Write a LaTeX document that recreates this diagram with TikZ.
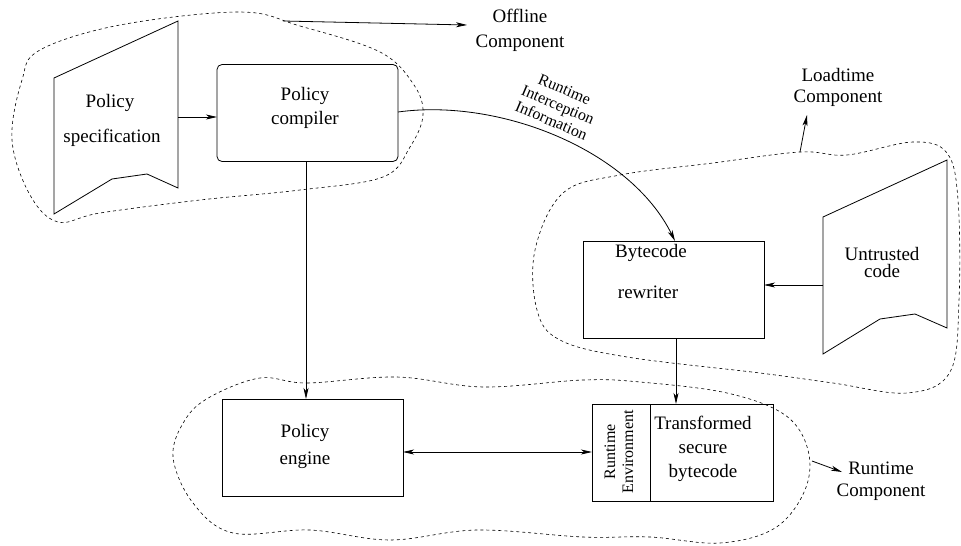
\documentclass[tikz,border=0pt]{standalone}
\usepackage{fontspec}
\setmainfont{Liberation Serif}
\usetikzlibrary{arrows.meta}
\begin{document}
\begin{tikzpicture}[x=1pt,y=-1pt,
  line width=0.8pt,
  every node/.style={inner sep=0pt,outer sep=0pt},
  txt/.style={font=\fontsize{19}{24}\selectfont,align=center},
  boxnode/.style={draw,minimum width=181pt,minimum height=97pt},
  blob/.style={dashed,dash pattern=on 3pt off 3pt,line width=0.6pt},
  arr/.style={-{Stealth[length=11pt,width=5pt,inset=3pt]}},
  darr/.style={{Stealth[length=11pt,width=5pt,inset=3pt]}-{Stealth[length=11pt,width=5pt,inset=3pt]}}]
\useasboundingbox (0,0) rectangle (961,546);

% dashed regions
\draw[blob] plot[smooth cycle,tension=0.6] coordinates {(240,12) (300,26) (380,52) (414,85) (423,115) (410,147) (383,177) (300,190) (200,200) (100,213) (58,222) (30,195) (12,140) (22,80) (40,50) (120,25)};
\draw[blob] plot[smooth cycle,tension=0.6] coordinates {(563,193) (620,175) (713,163) (800,152) (847,155) (913,142) (947,153) (958,200) (959,300) (950,372) (907,393) (833,383) (760,373) (627,357) (560,340) (537,310) (535,250)};
\draw[blob] plot[smooth cycle,tension=0.6] coordinates {(260,378) (307,383) (397,377) (483,387) (583,380) (640,382) (727,393) (785,415) (808,450) (805,490) (775,528) (720,543) (650,537) (583,537) (477,530) (390,540) (310,530) (233,533) (193,503) (173,457) (185,420) (210,397)};

% document shapes
\draw (54,78) -- (178,21) -- (178,188) -- (147,174) -- (112,179) -- (54,214) -- cycle;
\node[txt] (spectxt) at (110,103) {Policy};
\node[txt] (spectxt2) at (112,138) {specification};
\coordinate (specR) at (178,117);

\draw (823,217) -- (947,160) -- (947,328) -- (915,314) -- (880,319) -- (823,354) -- cycle;
\node[txt,font=\fontsize{19}{17}\selectfont] (uttxt) at (882,262) {Untrusted\\code};
\coordinate (utL) at (823,285);

% boxes
\node[boxnode,rounded corners=5pt] (comp) at (307.5,113) {};
\node[txt] (comptxt) at (305,108) {Policy\\compiler};

\node[boxnode] (eng) at (312.5,447.5) {};
\node[txt,font=\fontsize{19}{27}\selectfont] (engtxt) at (305,446) {Policy\\engine};

\node[boxnode] (bc) at (673.5,289.5) {};
\node[txt] (bctxt1) at (651,253) {Bytecode};
\node[txt] (bctxt2) at (648,292) {rewriter};

\node[boxnode] (rt) at (682.5,452.5) {};
\draw (650,404) -- (650,501);
\node[font=\fontsize{16}{18}\selectfont,align=center,rotate=90] (rtenv) at (619,452) {Runtime\\Environment};
\node[txt,font=\fontsize{19}{24}\selectfont] (tsb) at (703,449) {Transformed\\secure\\bytecode};

% connectors
\draw[arr] (specR) -- (comp.west |- specR);
\draw[arr] (comp.south -| 306,0) -- (eng.north -| 306,0);
\draw[darr] (eng.east |- 0,452) -- (rt.west |- 0,452);
\draw[arr] (bc.south -| 676,0) -- (rt.north -| 676,0);
\draw[arr] (utL) -- (utL -| bc.east);
\draw[arr] (comp.east |- 0,112) .. controls (500,98) and (630,150) .. (bc.north -| 675,0);
\node[font=\fontsize{16}{17}\selectfont,align=center,rotate=-23] (rii) at (558,105) {Runtime\\Interception\\Information};

% component labels
\node[txt,font=\fontsize{19}{25}\selectfont] (off) at (520,30) {Offline\\Component};
\coordinate (offs) at (283,21);
\draw[arr] (offs) -- (467,25);
\node[txt,font=\fontsize{19}{21}\selectfont] (load) at (838,87) {Loadtime\\Component};
\coordinate (loads) at (800,152);
\draw[arr] (loads) -- (807,115);
\node[txt,font=\fontsize{19}{22}\selectfont] (run) at (881,481) {Runtime\\Component};
\coordinate (runs) at (812,461);
\draw[arr] (runs) -- (842,472);
\end{tikzpicture}
\end{document}
